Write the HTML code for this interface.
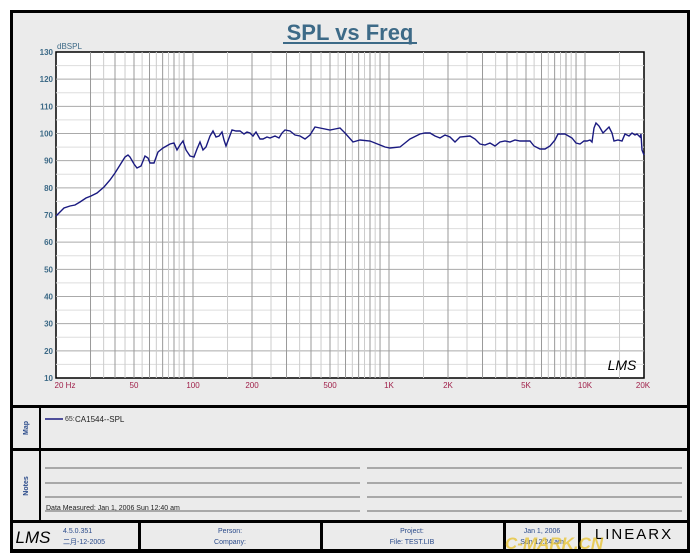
<!DOCTYPE html>
<html><head><meta charset="utf-8"><style>
body{margin:0;background:#fff;width:700px;height:560px;overflow:hidden}
svg{display:block}
text{font-family:"Liberation Sans","Noto Sans CJK SC",sans-serif}
</style></head><body>
<svg width="700" height="560" viewBox="0 0 700 560">
<rect x="0" y="0" width="700" height="560" fill="#fff"/>
<rect x="10" y="10" width="680" height="543" fill="#000"/>
<rect x="13" y="13" width="674" height="392" fill="#ebebeb"/>
<rect x="13" y="408" width="26" height="40" fill="#ebebeb"/>
<rect x="41" y="408" width="646" height="40" fill="#ebebeb"/>
<rect x="13" y="451" width="26" height="69" fill="#ebebeb"/>
<rect x="41" y="451" width="646" height="69" fill="#ebebeb"/>
<rect x="13" y="523" width="125" height="26" fill="#ebebeb"/>
<rect x="141" y="523" width="179" height="26" fill="#ebebeb"/>
<rect x="323" y="523" width="180" height="26" fill="#ebebeb"/>
<rect x="506" y="523" width="72" height="26" fill="#ebebeb"/>
<rect x="581" y="523" width="106" height="26" fill="#ebebeb"/>
<text x="350" y="40" text-anchor="middle" font-size="22" font-weight="bold" fill="#3d6a87">SPL vs Freq</text>
<line x1="283" y1="43" x2="417" y2="43" stroke="#3d6a87" stroke-width="2"/>
<rect x="56" y="52" width="588" height="326" fill="#fff" stroke="#000" stroke-width="1.5"/>
<g id="grid" stroke="#aaa" stroke-width="1"></g>
<text x="57" y="49" font-size="8" fill="#3d6a87">dBSPL</text>
<g id="ylab" font-size="8" fill="#3d6a87" text-anchor="end" font-weight="bold"></g>
<g id="xlab" font-size="8" fill="#a0204a" text-anchor="middle"></g>
<polyline id="curve" fill="none" stroke="#1a1a80" stroke-width="1.4"/>
<text x="622" y="370" font-size="14" font-style="italic" text-anchor="middle" fill="#000" font-family="Liberation Serif">LMS</text>
<line x1="45" y1="419" x2="63" y2="419" stroke="#1a1a80" stroke-width="1.5"/>
<text x="65" y="421" font-size="7" fill="#333">65:</text>
<text x="75" y="422" font-size="8" fill="#222" font-family="Liberation Mono">CA1544--SPL</text>
<text transform="translate(28,428) rotate(-90)" text-anchor="middle" font-size="7" font-weight="bold" fill="#2a4a8a">Map</text>
<text transform="translate(28,486) rotate(-90)" text-anchor="middle" font-size="7" font-weight="bold" fill="#2a4a8a">Notes</text>
<g stroke="#666" stroke-width="1">
<line x1="45" y1="468" x2="360" y2="468"/><line x1="367" y1="468" x2="682" y2="468"/>
<line x1="45" y1="483" x2="360" y2="483"/><line x1="367" y1="483" x2="682" y2="483"/>
<line x1="45" y1="497" x2="360" y2="497"/><line x1="367" y1="497" x2="682" y2="497"/>
<line x1="45" y1="511" x2="360" y2="511"/><line x1="367" y1="511" x2="682" y2="511"/>
</g>
<text x="46" y="510" font-size="7" fill="#222">Data Measured: Jan  1, 2006  Sun 12:40 am</text>
<text x="33" y="543" font-size="17" font-style="italic" text-anchor="middle" font-family="Liberation Serif">LMS</text>
<text x="63" y="533" font-size="7" fill="#2a4a8a">4.5.0.351</text>
<text x="63" y="544" font-size="7" fill="#2a4a8a">二月-12-2005</text>
<text x="230" y="533" font-size="7" fill="#2a4a8a" text-anchor="middle">Person:</text>
<text x="230" y="544" font-size="7" fill="#2a4a8a" text-anchor="middle">Company:</text>
<text x="412" y="533" font-size="7" fill="#2a4a8a" text-anchor="middle">Project:</text>
<text x="412" y="544" font-size="7" fill="#2a4a8a" text-anchor="middle">File: TEST.LIB</text>
<text x="542" y="533" font-size="7" fill="#2a4a8a" text-anchor="middle">Jan  1, 2006</text>
<text x="542" y="544" font-size="7" fill="#2a4a8a" text-anchor="middle">Sun 12:24 am</text>
<text x="634" y="539" font-size="15" text-anchor="middle" font-family="Liberation Serif" letter-spacing="2">LINEARX</text>
<text x="505" y="549" font-size="17" font-weight="bold" fill="#e8c020" opacity="0.7" font-style="italic">C-MARK.CN</text>
</svg>
<script>
var ns="http://www.w3.org/2000/svg";
function xf(f){return 56+196*Math.log10(f/20);}
function yd(d){return 378-(d-10)*326/120;}
var g=document.getElementById("grid");
function L(x1,y1,x2,y2,c){var l=document.createElementNS(ns,"line");l.setAttribute("x1",x1);l.setAttribute("y1",y1);l.setAttribute("x2",x2);l.setAttribute("y2",y2);if(c)l.setAttribute("stroke",c);g.appendChild(l);}
for(var d=15;d<130;d+=5){L(56,yd(d),644,yd(d),d%10?"#ddd":"#aaa");}
[10,100,1000,10000].forEach(function(dec){for(var k=1;k<10;k++){var f=dec*k;if(f<=20||f>=20000)continue;L(xf(f),52,xf(f),378,"#999");if(k<9){var h=f+dec/2;L(xf(h),52,xf(h),378,"#ccc");}}});
var yl=document.getElementById("ylab");
for(var d=10;d<=130;d+=10){var t=document.createElementNS(ns,"text");t.setAttribute("x",53);t.setAttribute("y",yd(d)+3);t.textContent=d;yl.appendChild(t);}
var xl=document.getElementById("xlab");
[[20,"20  Hz"],[50,"50"],[100,"100"],[200,"200"],[500,"500"],[1000,"1K"],[2000,"2K"],[5000,"5K"],[10000,"10K"],[20000,"20K"]].forEach(function(p){var t=document.createElementNS(ns,"text");var x=xf(p[0]);if(p[0]==20)x+=9;if(p[0]==20000)x-=1;t.setAttribute("x",x);t.setAttribute("y",388);t.textContent=p[1];xl.appendChild(t);});
var pts=[[56,216],[60,212],[64,208],[70,206],[75,205],[80,202],[86,198],[91,196],[97,193],[104,187],[110,180],[115,173],[120,165],[125,157],[128,155],[130,157],[134,164],[137,168],[141,166],[145,156],[148,158],[150,163],[154,163],[158,152],[163,148],[170,144],[174,143],[177,150],[180,145],[183,141],[186,150],[190,156],[194,157],[197,149],[200,142],[203,150],[206,147],[210,136],[213,131],[216,137],[219,136],[222,132],[224,140],[226,146],[229,138],[232,130],[236,131],[240,131],[244,134],[247,132],[250,133],[253,136],[256,132],[260,139],[263,139],[267,137],[270,138],[275,136],[279,138],[282,133],[285,130],[290,131],[295,135],[300,136],[305,139],[310,135],[315,127],[320,128],[330,130],[335,129],[340,128],[345,133],[353,142],[360,140],[370,141],[380,145],[385,147],[390,148],[400,147],[405,143],[410,139],[420,134],[425,133],[430,133],[435,136],[440,138],[445,135],[450,137],[455,142],[460,137],[470,136],[475,139],[480,144],[485,145],[490,143],[495,146],[500,142],[505,141],[510,142],[515,140],[520,141],[530,141],[534,146],[540,149],[545,149],[550,146],[555,140],[558,134],[565,134],[572,138],[576,143],[580,144],[584,141],[587,141],[590,140],[592,142],[594,128],[596,123],[599,126],[603,133],[606,130],[609,127],[612,133],[614,141],[618,140],[622,141],[625,134],[629,136],[632,133],[635,135],[637,134],[640,137],[641,134],[642,150],[644,155]];
document.getElementById("curve").setAttribute("points",pts.map(function(p){return p.join(",");}).join(" "));
</script>
</body></html>
